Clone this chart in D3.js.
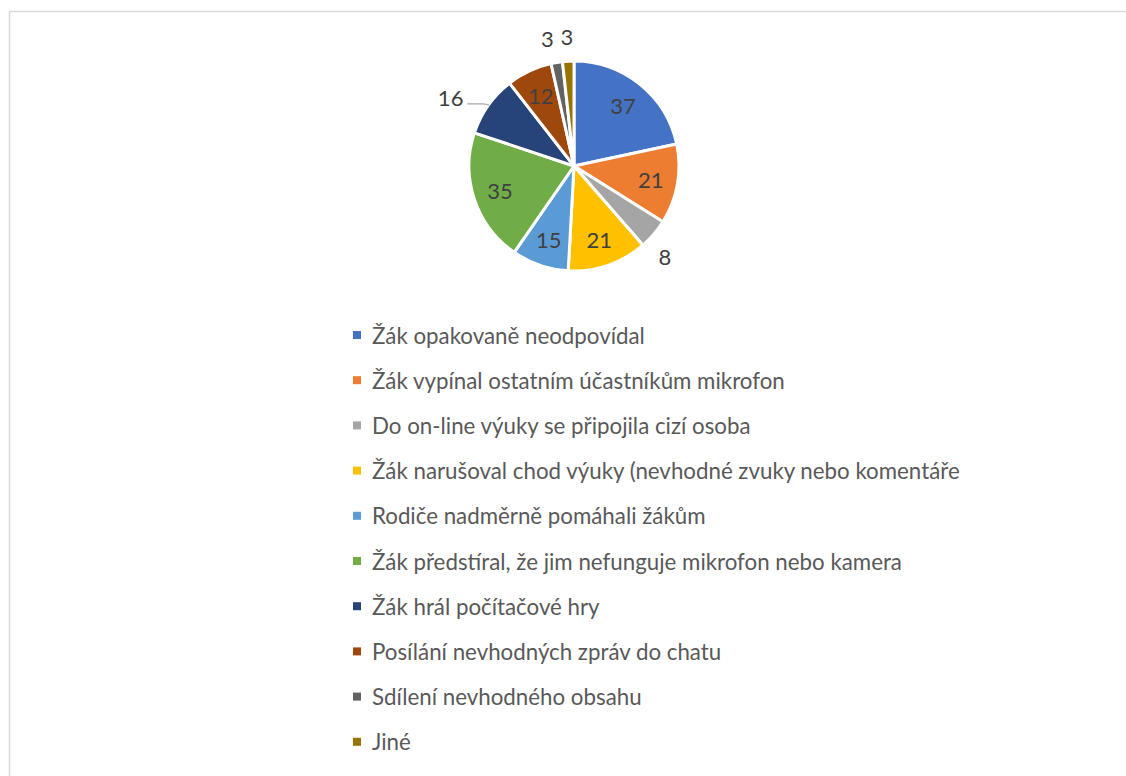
<!DOCTYPE html>
<html><head><meta charset="utf-8">
<script src="https://cdn.jsdelivr.net/npm/d3@7"></script>
<style>body{margin:0;background:#fff}svg{display:block}</style>
</head><body>
<svg id="c" width="1126" height="776"></svg>
<script>
const categories = [
  "Žák opakovaně neodpovídal",
  "Žák vypínal ostatním účastníkům mikrofon",
  "Do on-line výuky se připojila cizí osoba",
  "Žák narušoval chod výuky (nevhodné zvuky nebo komentáře",
  "Rodiče nadměrně pomáhali žákům",
  "Žák předstíral, že jim nefunguje mikrofon nebo kamera",
  "Žák hrál počítačové hry",
  "Posílání nevhodných zpráv do chatu",
  "Sdílení nevhodného obsahu",
  "Jiné"
];
const values = [37, 21, 8, 21, 15, 35, 16, 12, 3, 3];
const colors = ["#4472C4","#ED7D31","#A5A5A5","#FFC000","#5B9BD5","#70AD47","#264478","#9E480E","#636363","#997300"];

const svg = d3.select("#c");
const font = "Lato, 'Liberation Sans', sans-serif";
svg.append("rect").attr("x",9.5).attr("y",11.5).attr("width",1130).attr("height",780)
  .attr("fill","#fff").attr("stroke","#d9d9d9").attr("stroke-width",1.5);

const cx = 574, cy = 166, R = 105;
const g = svg.append("g").attr("transform",`translate(${cx},${cy})`);
const data = categories.map((c,i)=>({c, v: values[i], color: colors[i], i}));
const pie = d3.pie().value(d=>d.v).sort(null);
const arcs = pie(data);
const arc = d3.arc().innerRadius(0).outerRadius(R);
g.selectAll("path").data(arcs).join("path")
  .attr("d", arc).attr("fill", d=>d.data.color)
  .attr("stroke","#fff").attr("stroke-width",3).attr("stroke-linejoin","round");

const outside = new Set([2,6,8,9]);
const inArc = d3.arc().innerRadius(78).outerRadius(78);
const outR = {2:128, 6:141, 8:130, 9:130};
const outShift = {2:0.075, 6:-0.11, 8:-0.04, 9:0};
g.selectAll("text.lbl").data(arcs).join("text")
  .attr("class","lbl")
  .attr("transform", d=>{
    let p;
    const i = d.data.i;
    if (outside.has(i)) {
      const a = (d.startAngle+d.endAngle)/2 + outShift[i];
      p = [outR[i]*Math.sin(a), -outR[i]*Math.cos(a)];
    } else p = inArc.centroid(d);
    return `translate(${p[0]},${p[1]})`;
  })
  .attr("text-anchor","middle").attr("dominant-baseline","central")
  .attr("font-family",font).attr("font-size",22).attr("fill","#404040")
  .text(d=>d.data.v);

// leader line for 16
const a16 = arcs[6];
const am = (a16.startAngle+a16.endAngle)/2;
const ex = R*Math.sin(am), ey = -R*Math.cos(am);
g.append("path")
  .attr("d", `M${ex-21},${ey-1.5} L${ex-6},${ey-1.5} Q${ex-1},${ey-1.5} ${ex+1},${ey}`)
  .attr("fill","none").attr("stroke","#a6a6a6").attr("stroke-width",1.2);

// legend
const lg = svg.append("g");
const rows = lg.selectAll("g").data(data).join("g")
  .attr("transform",(d,i)=>`translate(353,${335 + i*45.2})`);
rows.append("rect").attr("x",0).attr("y",-4).attr("width",8).attr("height",8).attr("fill",d=>d.color);
rows.append("text").attr("x",19).attr("y",0).attr("dominant-baseline","central")
  .attr("font-family",font).attr("font-size",22.3).attr("fill","#595959")
  .text(d=>d.c);
</script>
</body></html>
